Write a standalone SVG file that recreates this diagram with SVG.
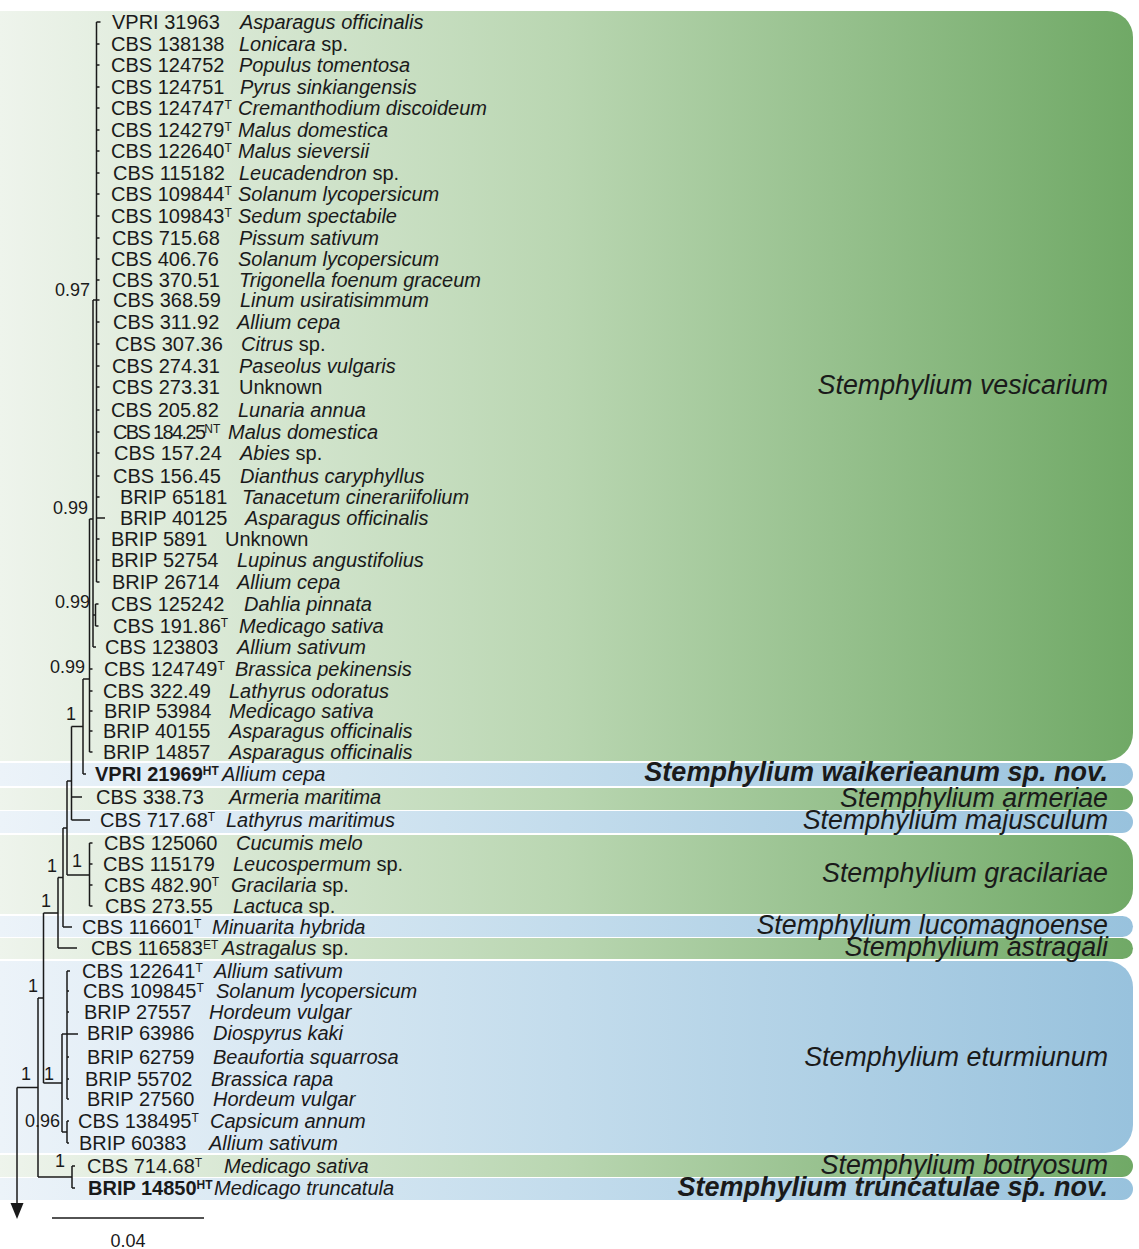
<svg xmlns="http://www.w3.org/2000/svg" width="1139" height="1249" viewBox="0 0 1139 1249">
<defs>
<linearGradient id="gG" gradientUnits="userSpaceOnUse" x1="0" y1="0" x2="1133" y2="0">
<stop offset="0" stop-color="#eef4ec"/>
<stop offset="0.5" stop-color="#b9d6b1"/>
<stop offset="1" stop-color="#70a966"/>
</linearGradient>
<linearGradient id="gB" gradientUnits="userSpaceOnUse" x1="0" y1="0" x2="1133" y2="0">
<stop offset="0" stop-color="#ecf3f9"/>
<stop offset="0.5" stop-color="#c3dcec"/>
<stop offset="1" stop-color="#98c2dd"/>
</linearGradient>
</defs>
<style>
.t{font-family:"Liberation Sans",Arial,Helvetica,sans-serif;font-size:20px;fill:#1a1a1a}
.i{font-style:italic}
.b{font-weight:bold}
.n{font-style:normal}
.s{font-size:12px}
.sp{font-family:"Liberation Sans",Arial,Helvetica,sans-serif;font-size:26.8px;font-style:italic;text-anchor:end;fill:#1a1a1a}
.spb{font-size:27px;font-weight:bold}
.lb{font-family:"Liberation Sans",Arial,Helvetica,sans-serif;font-size:18px;text-anchor:end;fill:#1a1a1a}
.tree{fill:none;stroke:#1a1a1a;stroke-width:1.5}
.g{fill:url(#gG)}
.bl{fill:url(#gB)}
</style>
<rect width="1139" height="1249" fill="#ffffff"/>
<g id="bands">
<path class="g" d="M0,11 H1107 A26,26 0 0 1 1133,37 V733 A28,28 0 0 1 1105,761 H0 Z"/>
<path class="bl" d="M0,763 H1121.5 A11.5,11.5 0 0 1 1121.5,786 H0 Z"/>
<path class="g" d="M0,788 H1122 A11,11 0 0 1 1122,810 H0 Z"/>
<path class="bl" d="M0,811 H1122 A11,11 0 0 1 1122,833 H0 Z"/>
<path class="g" d="M0,835 H1108 A25,25 0 0 1 1133,860 V889 A25,25 0 0 1 1108,914 H0 Z"/>
<path class="bl" d="M0,916 H1122.5 A10.5,10.5 0 0 1 1122.5,937 H0 Z"/>
<path class="g" d="M0,938 H1122.5 A10.5,10.5 0 0 1 1122.5,959 H0 Z"/>
<path class="bl" d="M0,961 H1107 A26,26 0 0 1 1133,987 V1125 A28,28 0 0 1 1105,1153 H0 Z"/>
<path class="g" d="M0,1155 H1122 A11,11 0 0 1 1122,1177 H0 Z"/>
<path class="bl" d="M0,1178 H1122 A11,11 0 0 1 1122,1200 H0 Z"/>
</g>
<g id="species">
<text id="sp-vesicarium" class="sp" x="1108" y="394">Stemphylium vesicarium</text>
<text id="sp-waikerieanum" class="sp spb" x="1108" y="781">Stemphylium waikerieanum sp. nov.</text>
<text id="sp-armeriae" class="sp" x="1108" y="807">Stemphylium armeriae</text>
<text id="sp-majusculum" class="sp" x="1108" y="829">Stemphylium majusculum</text>
<text id="sp-gracilariae" class="sp" x="1108" y="882">Stemphylium gracilariae</text>
<text id="sp-lucomagnoense" class="sp" x="1108" y="934">Stemphylium lucomagnoense</text>
<text id="sp-astragali" class="sp" x="1108" y="956">Stemphylium astragali</text>
<text id="sp-eturmiunum" class="sp" x="1108" y="1066">Stemphylium eturmiunum</text>
<text id="sp-botryosum" class="sp" x="1108" y="1174">Stemphylium botryosum</text>
<text id="sp-truncatulae" class="sp spb" x="1108" y="1196">Stemphylium truncatulae sp. nov.</text>
</g>
<g id="connectors" class="tree">
<path d="M96.5,22 V582 M96.5,22 h4 M96.5,44 h3 M96.5,65 h3 M96.5,87 h3 M96.5,108 h3 M96.5,130 h3 M96.5,151 h3 M96.5,173 h3 M96.5,194 h3 M96.5,216 h3 M96.5,238 h3 M96.5,259 h3 M96.5,280 h3 M96.5,300 h3 M96.5,322 h3 M96.5,344 h3 M96.5,366 h3 M96.5,387 h3 M96.5,410 h3 M96.5,432 h3 M96.5,453 h3 M96.5,476 h3 M96.5,497 h3 M96.5,518 H105 M96.5,539 h3 M96.5,560 h3 M96.5,582 h3"/>
<path d="M93,300 H96.5 M93,300 V647 M93,615 H95.5 M95.5,604 V626 M95.5,604 h3 M95.5,626 h3 M93,647 h3"/>
<path d="M89.5,519 H93 M89.5,519 V752 M89.5,669 h3 M89.5,691 h3 M89.5,711 h3 M89.5,731 h3 M89.5,752 h3"/>
<path d="M83,679 H89.5 M83,679 V774 M83,774 h3"/>
<path d="M71.5,726.5 H83 M71.5,726.5 V820 M71.5,797 H82 M71.5,820 H90"/>
<path d="M67,781 H71.5 M67,781 V875 M67,875 H89.5 M89.5,843 V906 M89.5,843 h3 M89.5,864 h3 M89.5,885 h3 M89.5,906 h3"/>
<path d="M63,828 H67 M63,828 V927 M63,927 H72"/>
<path d="M58,877.5 H63 M58,877.5 V948 M58,948 H77"/>
<path d="M43.5,913 H58 M43.5,913 V1083 M43.5,1083 H62"/>
<path d="M62,1034 V1132 M62,1034 H78 M67,971 V1099 M67,971 h3 M67,991 h2 M67,1012 h2 M67,1057 h2 M67,1079 h2 M67,1099 h2 M62,1132 H67 M67,1121 V1143 M67,1121 h2 M67,1143 h2"/>
<path d="M38,998 H43.5 M38,998 V1177 M38,1177 H72 M72,1166 V1188 M72,1166 h3 M72,1188 h3"/>
<path d="M17,1087.5 H38 M17,1087.5 V1206"/>
<polygon points="10.5,1203 23.5,1203 17,1219" fill="#1a1a1a" stroke="none"/>
</g>
<g id="support">
<text class="lb" x="90" y="296">0.97</text>
<text class="lb" x="88" y="514">0.99</text>
<text class="lb" x="90" y="608">0.99</text>
<text class="lb" x="85" y="673">0.99</text>
<text class="lb" x="76" y="720">1</text>
<text class="lb" x="82" y="867">1</text>
<text class="lb" x="57" y="872">1</text>
<text class="lb" x="51" y="907">1</text>
<text class="lb" x="38" y="992">1</text>
<text class="lb" x="31" y="1080">1</text>
<text class="lb" x="54" y="1080">1</text>
<text class="lb" x="60" y="1127">0.96</text>
<text class="lb" x="65" y="1167">1</text>
</g>
<g id="scale">
<path d="M52,1218 H204" fill="none" stroke="#1a1a1a" stroke-width="1.5"/>
<text class="lb" x="128" y="1247" style="text-anchor:middle">0.04</text>
</g>
<g id="taxa">
<g id="tip1"><text class="t" x="112" y="29">VPRI 31963</text><text class="t i" x="240" y="29">Asparagus officinalis</text></g>
<g id="tip2"><text class="t" x="111" y="51">CBS 138138</text><text class="t i" x="239" y="51">Lonicara<tspan class="n"> sp.</tspan></text></g>
<g id="tip3"><text class="t" x="111" y="72">CBS 124752</text><text class="t i" x="239" y="72">Populus tomentosa</text></g>
<g id="tip4"><text class="t" x="111" y="94">CBS 124751</text><text class="t i" x="240" y="94">Pyrus sinkiangensis</text></g>
<g id="tip5"><text class="t" x="111" y="115">CBS 124747<tspan class="s" dy="-6">T</tspan></text><text class="t i" x="238" y="115">Cremanthodium discoideum</text></g>
<g id="tip6"><text class="t" x="111" y="137">CBS 124279<tspan class="s" dy="-6">T</tspan></text><text class="t i" x="238" y="137">Malus domestica</text></g>
<g id="tip7"><text class="t" x="111" y="158">CBS 122640<tspan class="s" dy="-6">T</tspan></text><text class="t i" x="238" y="158">Malus sieversii</text></g>
<g id="tip8"><text class="t" x="113" y="180">CBS 115182</text><text class="t i" x="239" y="180">Leucadendron<tspan class="n"> sp.</tspan></text></g>
<g id="tip9"><text class="t" x="111" y="201">CBS 109844<tspan class="s" dy="-6">T</tspan></text><text class="t i" x="238" y="201">Solanum lycopersicum</text></g>
<g id="tip10"><text class="t" x="111" y="223">CBS 109843<tspan class="s" dy="-6">T</tspan></text><text class="t i" x="238" y="223">Sedum spectabile</text></g>
<g id="tip11"><text class="t" x="112" y="245">CBS 715.68</text><text class="t i" x="239" y="245">Pissum sativum</text></g>
<g id="tip12"><text class="t" x="111" y="266">CBS 406.76</text><text class="t i" x="238" y="266">Solanum lycopersicum</text></g>
<g id="tip13"><text class="t" x="112" y="287">CBS 370.51</text><text class="t i" x="239" y="287">Trigonella foenum graceum</text></g>
<g id="tip14"><text class="t" x="113" y="307">CBS 368.59</text><text class="t i" x="240" y="307">Linum usiratisimmum</text></g>
<g id="tip15"><text class="t" x="113" y="329">CBS 311.92</text><text class="t i" x="237" y="329">Allium cepa</text></g>
<g id="tip16"><text class="t" x="115" y="351">CBS 307.36</text><text class="t i" x="241" y="351">Citrus<tspan class="n"> sp.</tspan></text></g>
<g id="tip17"><text class="t" x="112" y="373">CBS 274.31</text><text class="t i" x="239" y="373">Paseolus vulgaris</text></g>
<g id="tip18"><text class="t" x="112" y="394">CBS 273.31</text><text class="t" x="239" y="394">Unknown</text></g>
<g id="tip19"><text class="t" x="111" y="417">CBS 205.82</text><text class="t i" x="238" y="417">Lunaria annua</text></g>
<g id="tip20"><text class="t" x="113" y="439"><tspan textLength="93" lengthAdjust="spacing">CBS 184.25</tspan><tspan class="s" dy="-6">NT</tspan></text><text class="t i" x="228" y="439">Malus domestica</text></g>
<g id="tip21"><text class="t" x="114" y="460">CBS 157.24</text><text class="t i" x="240" y="460">Abies<tspan class="n"> sp.</tspan></text></g>
<g id="tip22"><text class="t" x="113" y="483">CBS 156.45</text><text class="t i" x="240" y="483">Dianthus caryphyllus</text></g>
<g id="tip23"><text class="t" x="120" y="504">BRIP 65181</text><text class="t i" x="242" y="504">Tanacetum cinerariifolium</text></g>
<g id="tip24"><text class="t" x="120" y="525">BRIP 40125</text><text class="t i" x="245" y="525">Asparagus officinalis</text></g>
<g id="tip25"><text class="t" x="111" y="546">BRIP 5891</text><text class="t" x="225" y="546">Unknown</text></g>
<g id="tip26"><text class="t" x="111" y="567">BRIP 52754</text><text class="t i" x="237" y="567">Lupinus angustifolius</text></g>
<g id="tip27"><text class="t" x="112" y="589">BRIP 26714</text><text class="t i" x="237" y="589">Allium cepa</text></g>
<g id="tip28"><text class="t" x="111" y="611">CBS 125242</text><text class="t i" x="244" y="611">Dahlia pinnata</text></g>
<g id="tip29"><text class="t" x="113" y="633">CBS 191.86<tspan class="s" dy="-6">T</tspan></text><text class="t i" x="239" y="633">Medicago sativa</text></g>
<g id="tip30"><text class="t" x="105" y="654">CBS 123803</text><text class="t i" x="237" y="654">Allium sativum</text></g>
<g id="tip31"><text class="t" x="104" y="676">CBS 124749<tspan class="s" dy="-6">T</tspan></text><text class="t i" x="235" y="676">Brassica pekinensis</text></g>
<g id="tip32"><text class="t" x="103" y="698">CBS 322.49</text><text class="t i" x="229" y="698">Lathyrus odoratus</text></g>
<g id="tip33"><text class="t" x="104" y="718">BRIP 53984</text><text class="t i" x="229" y="718">Medicago sativa</text></g>
<g id="tip34"><text class="t" x="103" y="738">BRIP 40155</text><text class="t i" x="229" y="738">Asparagus officinalis</text></g>
<g id="tip35"><text class="t" x="103" y="759">BRIP 14857</text><text class="t i" x="229" y="759">Asparagus officinalis</text></g>
<g id="tip36"><text class="t b" x="95" y="781">VPRI 21969<tspan class="s" dy="-6">HT</tspan></text><text class="t i" x="222" y="781">Allium cepa</text></g>
<g id="tip37"><text class="t" x="96" y="804">CBS 338.73</text><text class="t i" x="229" y="804">Armeria maritima</text></g>
<g id="tip38"><text class="t" x="100" y="827">CBS 717.68<tspan class="s" dy="-6">T</tspan></text><text class="t i" x="226" y="827">Lathyrus maritimus</text></g>
<g id="tip39"><text class="t" x="104" y="850">CBS 125060</text><text class="t i" x="236" y="850">Cucumis melo</text></g>
<g id="tip40"><text class="t" x="103" y="871">CBS 115179</text><text class="t i" x="233" y="871">Leucospermum<tspan class="n"> sp.</tspan></text></g>
<g id="tip41"><text class="t" x="104" y="892">CBS 482.90<tspan class="s" dy="-6">T</tspan></text><text class="t i" x="231" y="892">Gracilaria<tspan class="n"> sp.</tspan></text></g>
<g id="tip42"><text class="t" x="105" y="913">CBS 273.55</text><text class="t i" x="233" y="913">Lactuca<tspan class="n"> sp.</tspan></text></g>
<g id="tip43"><text class="t" x="82" y="934">CBS 116601<tspan class="s" dy="-6">T</tspan></text><text class="t i" x="212" y="934">Minuarita hybrida</text></g>
<g id="tip44"><text class="t" x="91" y="955">CBS 116583<tspan class="s" dy="-6">ET</tspan></text><text class="t i" x="222" y="955">Astragalus<tspan class="n"> sp.</tspan></text></g>
<g id="tip45"><text class="t" x="82" y="978">CBS 122641<tspan class="s" dy="-6">T</tspan></text><text class="t i" x="214" y="978">Allium sativum</text></g>
<g id="tip46"><text class="t" x="83" y="998">CBS 109845<tspan class="s" dy="-6">T</tspan></text><text class="t i" x="216" y="998">Solanum lycopersicum</text></g>
<g id="tip47"><text class="t" x="84" y="1019">BRIP 27557</text><text class="t i" x="209" y="1019">Hordeum vulgar</text></g>
<g id="tip48"><text class="t" x="87" y="1040">BRIP 63986</text><text class="t i" x="213" y="1040">Diospyrus kaki</text></g>
<g id="tip49"><text class="t" x="87" y="1064">BRIP 62759</text><text class="t i" x="213" y="1064">Beaufortia squarrosa</text></g>
<g id="tip50"><text class="t" x="85" y="1086">BRIP 55702</text><text class="t i" x="211" y="1086">Brassica rapa</text></g>
<g id="tip51"><text class="t" x="87" y="1106">BRIP 27560</text><text class="t i" x="213" y="1106">Hordeum vulgar</text></g>
<g id="tip52"><text class="t" x="78" y="1128">CBS 138495<tspan class="s" dy="-6">T</tspan></text><text class="t i" x="210" y="1128">Capsicum annum</text></g>
<g id="tip53"><text class="t" x="79" y="1150">BRIP 60383</text><text class="t i" x="209" y="1150">Allium sativum</text></g>
<g id="tip54"><text class="t" x="87" y="1173">CBS 714.68<tspan class="s" dy="-6">T</tspan></text><text class="t i" x="224" y="1173">Medicago sativa</text></g>
<g id="tip55"><text class="t b" x="88" y="1195">BRIP 14850<tspan class="s" dy="-6">HT</tspan></text><text class="t i" x="214" y="1195">Medicago truncatula</text></g>
</g>
</svg>
